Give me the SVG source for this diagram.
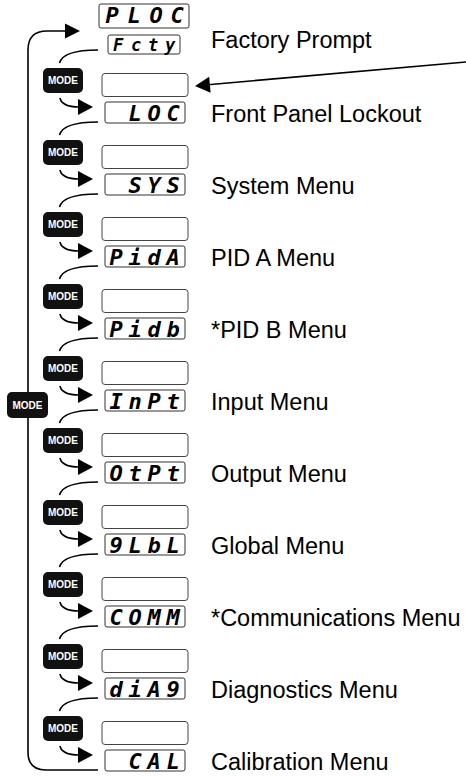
<svg xmlns="http://www.w3.org/2000/svg" width="466" height="777" viewBox="0 0 466 777">
<style>
.blank{fill:#fff;stroke:#444;stroke-width:1}
.disp{fill:#fff;stroke:#333;stroke-width:1}
.mode{fill:#111}
.mt{font-family:"Liberation Sans",Arial,sans-serif;font-weight:bold;font-size:10px;fill:#fff;text-anchor:middle}
.seg{font-family:"DejaVu Sans Mono",monospace;font-weight:bold;font-style:italic;font-size:22px;fill:#000;text-anchor:middle}
.lbl{font-family:"Liberation Sans",Arial,sans-serif;font-size:23.5px;fill:#000}
.ln{fill:none;stroke:#000;stroke-width:1.6}
.ah{fill:#000}
</style>
<g id="connectors">
<path class="ln" d="M98,50 C74,50 62,54 59.5,63"/>
<path class="ln" d="M60,98 Q62,107 79,107"/><polygon class="ah" points="78,99 93,107 78,115"/>
<path class="ln" d="M98,122 C74,122 62,126 59.5,135"/>
<path class="ln" d="M60,170 Q62,179 79,179"/><polygon class="ah" points="78,171 93,179 78,187"/>
<path class="ln" d="M98,194 C74,194 62,198 59.5,207"/>
<path class="ln" d="M60,242 Q62,251 79,251"/><polygon class="ah" points="78,243 93,251 78,259"/>
<path class="ln" d="M98,266 C74,266 62,270 59.5,279"/>
<path class="ln" d="M60,314 Q62,323 79,323"/><polygon class="ah" points="78,315 93,323 78,331"/>
<path class="ln" d="M98,338 C74,338 62,342 59.5,351"/>
<path class="ln" d="M60,386 Q62,395 79,395"/><polygon class="ah" points="78,387 93,395 78,403"/>
<path class="ln" d="M98,410 C74,410 62,414 59.5,423"/>
<path class="ln" d="M60,458 Q62,467 79,467"/><polygon class="ah" points="78,459 93,467 78,475"/>
<path class="ln" d="M98,482 C74,482 62,486 59.5,495"/>
<path class="ln" d="M60,530 Q62,539 79,539"/><polygon class="ah" points="78,531 93,539 78,547"/>
<path class="ln" d="M98,554 C74,554 62,558 59.5,567"/>
<path class="ln" d="M60,602 Q62,611 79,611"/><polygon class="ah" points="78,603 93,611 78,619"/>
<path class="ln" d="M98,626 C74,626 62,630 59.5,639"/>
<path class="ln" d="M60,674 Q62,683 79,683"/><polygon class="ah" points="78,675 93,683 78,691"/>
<path class="ln" d="M98,698 C74,698 62,702 59.5,711"/>
<path class="ln" d="M60,746 Q62,755 79,755"/><polygon class="ah" points="78,747 93,755 78,763"/>
<path class="ln" d="M98,770 H46 Q28,770 28,752 V50 Q28,31 47,31 H66"/><polygon class="ah" points="65,23.5 80,31 65,38.5"/>
<path class="ln" stroke-width="2" d="M466,62 L208,84.7"/><polygon class="ah" points="195,86 209.2,76.7 210.6,92.7"/>
</g>
<g id="ploc"><rect class="disp" x="99" y="4" width="90" height="24" rx="2"/><text class="seg" x="112 134 156 177" y="23">PLOC</text></g>
<g id="fcty"><rect class="disp" x="108" y="35" width="72" height="19" rx="2"/><text class="seg" style="font-size:17px" x="118 136 153 170" y="51">Fcty</text></g>
<text class="lbl" x="211" y="48">Factory Prompt</text>

<g id="mode-loop"><rect class="mode" x="7" y="392" width="41" height="26" rx="5"/><text class="mt" x="27.5" y="408.5">MODE</text></g>

<g id="mode-1"><rect class="mode" x="43" y="68" width="40" height="25" rx="5"/><text class="mt" x="63" y="84">MODE</text></g>
<g id="blank-1"><rect class="blank" x="102" y="73.5" width="86" height="23" rx="3"/></g>
<g id="loc"><rect class="disp" x="105" y="102" width="80" height="21" rx="2"/><text class="seg" x="135 154 173" y="120.5">LOC</text></g>
<text class="lbl" x="211" y="122">Front Panel Lockout</text>

<g id="mode-2"><rect class="mode" x="43" y="140" width="40" height="25" rx="5"/><text class="mt" x="63" y="156">MODE</text></g>
<g id="blank-2"><rect class="blank" x="102" y="145.5" width="86" height="23" rx="3"/></g>
<g id="sys"><rect class="disp" x="105" y="174" width="80" height="21" rx="2"/><text class="seg" x="135 154 173" y="192.5">SYS</text></g>
<text class="lbl" x="211" y="194">System Menu</text>

<g id="mode-3"><rect class="mode" x="43" y="212" width="40" height="25" rx="5"/><text class="mt" x="63" y="228">MODE</text></g>
<g id="blank-3"><rect class="blank" x="102" y="217.5" width="86" height="23" rx="3"/></g>
<g id="pida"><rect class="disp" x="105" y="246" width="80" height="21" rx="2"/><text class="seg" x="116 135 154 173" y="264.5">PidA</text></g>
<text class="lbl" x="211" y="266">PID A Menu</text>

<g id="mode-4"><rect class="mode" x="43" y="284" width="40" height="25" rx="5"/><text class="mt" x="63" y="300">MODE</text></g>
<g id="blank-4"><rect class="blank" x="102" y="289.5" width="86" height="23" rx="3"/></g>
<g id="pidb"><rect class="disp" x="105" y="318" width="80" height="21" rx="2"/><text class="seg" x="116 135 154 173" y="336.5">Pidb</text></g>
<text class="lbl" x="211" y="338">*PID B Menu</text>

<g id="mode-5"><rect class="mode" x="43" y="356" width="40" height="25" rx="5"/><text class="mt" x="63" y="372">MODE</text></g>
<g id="blank-5"><rect class="blank" x="102" y="361.5" width="86" height="23" rx="3"/></g>
<g id="inpt"><rect class="disp" x="105" y="390" width="80" height="21" rx="2"/><text class="seg" x="116 135 154 173" y="408.5">InPt</text></g>
<text class="lbl" x="211" y="410">Input Menu</text>

<g id="mode-6"><rect class="mode" x="43" y="428" width="40" height="25" rx="5"/><text class="mt" x="63" y="444">MODE</text></g>
<g id="blank-6"><rect class="blank" x="102" y="433.5" width="86" height="23" rx="3"/></g>
<g id="otpt"><rect class="disp" x="105" y="462" width="80" height="21" rx="2"/><text class="seg" x="116 135 154 173" y="480.5">OtPt</text></g>
<text class="lbl" x="211" y="482">Output Menu</text>

<g id="mode-7"><rect class="mode" x="43" y="500" width="40" height="25" rx="5"/><text class="mt" x="63" y="516">MODE</text></g>
<g id="blank-7"><rect class="blank" x="102" y="505.5" width="86" height="23" rx="3"/></g>
<g id="glbl"><rect class="disp" x="105" y="534" width="80" height="21" rx="2"/><text class="seg" x="116 135 154 173" y="552.5">9LbL</text></g>
<text class="lbl" x="211" y="554">Global Menu</text>

<g id="mode-8"><rect class="mode" x="43" y="572" width="40" height="25" rx="5"/><text class="mt" x="63" y="588">MODE</text></g>
<g id="blank-8"><rect class="blank" x="102" y="577.5" width="86" height="23" rx="3"/></g>
<g id="comm"><rect class="disp" x="105" y="606" width="80" height="21" rx="2"/><text class="seg" x="116 135 154 173" y="624.5">COMM</text></g>
<text class="lbl" x="211" y="626">*Communications Menu</text>

<g id="mode-9"><rect class="mode" x="43" y="644" width="40" height="25" rx="5"/><text class="mt" x="63" y="660">MODE</text></g>
<g id="blank-9"><rect class="blank" x="102" y="649.5" width="86" height="23" rx="3"/></g>
<g id="diag"><rect class="disp" x="105" y="678" width="80" height="21" rx="2"/><text class="seg" x="116 135 154 173" y="696.5">diA9</text></g>
<text class="lbl" x="211" y="698">Diagnostics Menu</text>

<g id="mode-10"><rect class="mode" x="43" y="716" width="40" height="25" rx="5"/><text class="mt" x="63" y="732">MODE</text></g>
<g id="blank-10"><rect class="blank" x="102" y="721.5" width="86" height="23" rx="3"/></g>
<g id="cal"><rect class="disp" x="105" y="750" width="80" height="21" rx="2"/><text class="seg" x="135 154 173" y="768.5">CAL</text></g>
<text class="lbl" x="211" y="770">Calibration Menu</text>
</svg>
